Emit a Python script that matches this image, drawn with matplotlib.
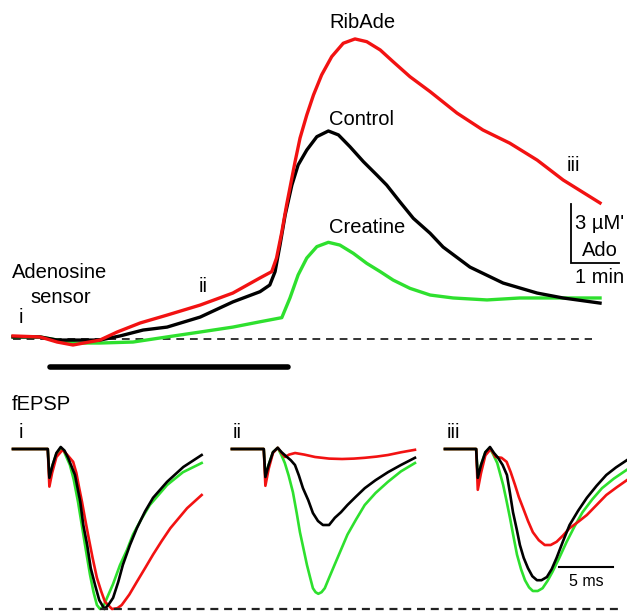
import matplotlib
matplotlib.use("Agg")
import matplotlib.pyplot as plt

plt.rcParams['font.family'] = ['Liberation Sans', 'DejaVu Sans']

# ---------------- DATA: adenosine sensor traces (time in min, conc in uM) ----------------
ribade_t = [0, 0.56, 0.92, 1.25, 1.81, 2.17, 2.65, 3.21, 3.90, 4.58, 5.146, 5.39, 5.49, 5.60, 5.70,
            5.81, 5.875, 5.98, 6.12, 6.26, 6.43, 6.64, 6.88, 7.125, 7.37, 7.65, 7.92, 8.27, 8.69,
            9.25, 9.79, 10.35, 10.92, 11.46, 12.23]
ribade_c = [0.13, 0.08, -0.18, -0.33, -0.08, 0.33, 0.79, 1.19, 1.70, 2.31, 3.08, 3.40, 4.09, 5.41, 6.79,
            8.16, 8.97, 10.19, 11.36, 12.38, 13.40, 14.33, 15.01, 15.23, 15.09, 14.67, 14.07, 13.31, 12.55,
            11.46, 10.60, 9.93, 9.07, 8.06, 6.89]

control_t = [0, 0.56, 0.92, 1.25, 1.81, 2.23, 2.71, 3.21, 3.90, 4.58, 5.146, 5.35, 5.46, 5.5625, 5.67,
             5.81, 5.94, 6.12, 6.33, 6.57, 6.78, 7.02, 7.30, 7.58, 7.785, 8.06, 8.34, 8.69, 8.96,
             9.52, 10.21, 10.92, 11.46, 12.23]
control_c = [0.08, 0.08, -0.08, -0.08, -0.08, 0.13, 0.43, 0.58, 1.09, 1.86, 2.38, 2.72, 3.40, 4.75, 6.28,
             7.80, 8.82, 9.58, 10.26, 10.55, 10.35, 9.75, 8.99, 8.31, 7.80, 6.95, 6.11, 5.35, 4.65,
             3.63, 2.82, 2.31, 2.06, 1.80]

creatine_t = [0, 0.56, 0.92, 1.33, 1.81, 2.5, 3.21, 3.90, 4.58, 5.146, 5.60, 5.77, 5.94, 6.12, 6.33,
              6.57, 6.81, 7.09, 7.37, 7.65, 7.92, 8.27, 8.69, 9.17, 9.875, 10.56, 11.25, 12.23]
creatine_c = [0.08, 0.08, -0.08, -0.23, -0.23, -0.18, 0.08, 0.33, 0.58, 0.85, 1.06, 2.06, 3.23, 4.09, 4.67,
              4.89, 4.75, 4.33, 3.82, 3.40, 2.97, 2.55, 2.21, 2.06, 1.96, 2.06, 2.06, 2.06]

drug_on, drug_off = 0.77, 5.72          # min (bar)
baseline_end = 12.06                     # min (dashed zero line)
sample_labels = ['i', 'ii', 'iii']
sample_t = [0.17, 3.96, 11.67]
sample_c = [1.09, 2.62, 8.82]

# ---------------- DATA: fEPSP traces (time in ms from stimulus, mV) ----------------
# panel i
i_ctrl_t = [-3.27, -0.05, 0.1, 0.4, 0.75, 1.15, 1.5, 1.83, 2.1, 2.47, 2.96, 3.24, 3.6, 3.93, 4.33, 4.72,
            5.2, 5.56, 6.0, 6.48, 6.9, 7.56, 8.2, 8.96, 9.7, 11.0, 12.5, 14.2]
i_ctrl_v = [0, 0, -0.36, -0.2, -0.05, 0.025, -0.02, -0.11, -0.2, -0.325, -0.66, -0.95, -1.2, -1.49, -1.7, -1.89,
            -2.0, -1.95, -1.86, -1.66, -1.45, -1.2, -0.99, -0.78, -0.61, -0.41, -0.225, -0.075]
i_crea_t = [-3.27, -0.05, 0.1, 0.4, 0.75, 1.1, 1.45, 2.0, 2.35, 2.75, 3.1, 3.4, 3.86, 4.19, 4.5, 4.79, 5.1,
            5.44, 5.99, 6.64, 7.29, 7.84, 8.6, 9.4, 11.0, 12.47, 14.2]
i_crea_v = [0, 0, -0.36, -0.2, -0.06, 0.0, -0.03, -0.2, -0.38, -0.66, -0.95, -1.2, -1.57, -1.79, -1.95, -2.0, -1.97,
            -1.86, -1.69, -1.45, -1.26, -1.07, -0.88, -0.7, -0.45, -0.29, -0.175]
i_rib_t = [-3.27, -0.05, 0.1, 0.35, 0.75, 1.33, 1.8, 2.3, 2.6, 2.85, 3.12, 3.4, 3.68, 4.1, 4.5, 4.9, 5.25,
           5.9, 6.4, 6.8, 7.5, 8.2, 9.0, 9.7, 10.5, 11.3, 12.85, 14.2]
i_rib_v = [0, 0, -0.47, -0.3, -0.1, -0.01, -0.08, -0.16, -0.3, -0.48, -0.66, -0.87, -1.07, -1.36, -1.61, -1.78, -1.91,
           -2.0, -1.99, -1.95, -1.82, -1.66, -1.48, -1.32, -1.15, -0.99, -0.74, -0.575]
# panel ii
ii_ctrl_t = [-3.0, -0.05, 0.1, 0.4, 0.8, 1.24, 1.6, 2.1, 2.45, 2.84, 3.2, 3.58, 4.07, 4.5, 4.97, 5.43, 6.0,
             6.53, 7.1, 7.7, 8.45, 9.3, 10.3, 11.45, 12.65, 13.95]
ii_ctrl_v = [0, 0, -0.35, -0.2, -0.04, 0.015, -0.04, -0.1, -0.14, -0.2, -0.33, -0.49, -0.64, -0.8, -0.9, -0.95, -0.95,
             -0.86, -0.79, -0.7, -0.6, -0.49, -0.39, -0.29, -0.2, -0.11]
ii_crea_t = [-3.0, -0.05, 0.1, 0.4, 0.8, 1.24, 1.6, 1.9, 2.25, 2.65, 3.0, 3.3, 3.65, 3.95, 4.25, 4.5, 4.75, 5.0,
             5.3, 5.6, 6.0, 6.5, 7.1, 7.7, 8.5, 9.3, 10.3, 11.45, 12.65, 13.95]
ii_crea_v = [0, 0, -0.35, -0.2, -0.04, 0.015, -0.08, -0.175, -0.33, -0.54, -0.8, -1.04, -1.26, -1.45, -1.61, -1.74,
             -1.79, -1.81, -1.79, -1.74, -1.61, -1.45, -1.26, -1.07, -0.88, -0.7, -0.55, -0.41, -0.28, -0.175]
ii_rib_t = [-3.0, -0.05, 0.1, 0.4, 0.8, 1.24, 1.6, 1.92, 2.3, 2.85, 3.7, 4.7, 6.0, 7.2, 8.3, 9.3, 10.4, 11.45,
            12.7, 13.95]
ii_rib_v = [0, 0, -0.46, -0.25, -0.05, 0.015, -0.05, -0.1, -0.07, -0.05, -0.07, -0.1, -0.12, -0.125, -0.12, -0.11,
            -0.095, -0.075, -0.04, -0.01]
# panel iii
iii_ctrl_t = [-2.94, -0.05, 0.1, 0.4, 0.8, 1.23, 1.6, 1.98, 2.4, 2.8, 3.08, 3.36, 3.7, 4.0, 4.35, 4.75, 5.15,
              5.58, 6.0, 6.5, 6.95, 7.4, 8.0, 8.6, 9.4, 10.2, 11.1, 12.0, 12.9, 13.9]
iii_ctrl_v = [0, 0, -0.36, -0.2, -0.04, 0.025, -0.05, -0.11, -0.2, -0.325, -0.55, -0.79, -1.0, -1.2, -1.36, -1.49,
              -1.59, -1.64, -1.64, -1.6, -1.5, -1.36, -1.15, -0.95, -0.77, -0.61, -0.46, -0.325, -0.23, -0.14]
iii_crea_t = [-2.94, -0.05, 0.1, 0.4, 0.8, 1.2, 1.5, 1.9, 2.15, 2.45, 2.75, 3.08, 3.4, 3.73, 4.1, 4.47, 4.85,
              5.2, 5.65, 6.1, 6.55, 7.0, 7.65, 8.33, 9.05, 9.8, 10.7, 11.6, 12.7, 13.9]
iii_crea_v = [0, 0, -0.36, -0.2, -0.04, 0.01, -0.06, -0.175, -0.3, -0.45, -0.64, -0.86, -1.09, -1.32, -1.5, -1.64,
              -1.73, -1.775, -1.775, -1.74, -1.65, -1.54, -1.36, -1.16, -0.97, -0.79, -0.63, -0.49, -0.37, -0.26]
iii_rib_t = [-2.94, -0.05, 0.1, 0.4, 0.8, 1.3, 1.75, 2.3, 2.77, 3.15, 3.55, 3.9, 4.3, 4.75, 5.2, 5.75, 6.3,
             6.85, 7.4, 8.0, 8.6, 9.4, 10.2, 11.1, 12.0, 12.95, 13.9]
iii_rib_v = [0, 0, -0.51, -0.3, -0.08, 0.0, -0.1, -0.11, -0.16, -0.29, -0.45, -0.6, -0.74, -0.9, -1.04, -1.14, -1.2,
             -1.2, -1.16, -1.08, -0.99, -0.91, -0.825, -0.7, -0.575, -0.48, -0.39]

RED, BLACK, GREEN = '#f21212', '#000000', '#2ee02e'

# ---------------- LAYOUT ----------------
W, H = 627, 613
fig = plt.figure(figsize=(W / 100, H / 100), dpi=100)

def rect(px0, py0, px1, py1):
    return [px0 / W, 1 - py1 / H, (px1 - px0) / W, (py1 - py0) / H]

# top panel scale: px per min, px per uM, origin pixel
PXM, PXU, OX, OY = 48.0, 19.67, 13.0, 338.5
ax = fig.add_axes(rect(0, 0, W, 390))
ax.set_xlim((0 - OX) / PXM, (W - OX) / PXM)
ax.set_ylim((OY - 390) / PXU, OY / PXU)
ax.axis('off')

ax.plot([0, baseline_end], [0, 0], color='#333333', lw=1.4, ls=(0, (4.0, 3.0)))
ax.plot(creatine_t, creatine_c, color=GREEN, lw=2.4, solid_joinstyle='round')
ax.plot(control_t, control_c, color=BLACK, lw=2.4, solid_joinstyle='round')
ax.plot(ribade_t, ribade_c, color=RED, lw=2.4, solid_joinstyle='round')
ax.plot([drug_on, drug_off], [-1.46, -1.46], color='black', lw=4.0, solid_capstyle='round')

FS = 14.5
ax.text(7.29, 16.04, 'RibAde', fontsize=FS, ha='center', va='center')
ax.text(7.27, 11.11, 'Control', fontsize=FS, ha='center', va='center')
ax.text(7.375, 5.62, 'Creatine', fontsize=FS, ha='center', va='center')
ax.text(0.98, 3.33, 'Adenosine', fontsize=FS, ha='center', va='center')
ax.text(1.0, 2.06, 'sensor', fontsize=FS, ha='center', va='center')
for lab, t, c in zip(sample_labels, sample_t, sample_c):
    ax.text(t, c, lab, fontsize=FS, ha='center', va='center')

# scale bar: 3 uM x 1 min
sbx, sby = 11.62, 3.84
ax.plot([sbx, sbx, sbx + 1], [sby + 3, sby, sby], color='black', lw=1.3, solid_joinstyle='miter')
ax.text(sbx + 0.09, sby + 2.03, '3 µM\'', fontsize=FS, ha='left', va='center')
ax.text(sbx + 0.61, sby + 0.61, 'Ado', fontsize=FS, ha='center', va='center')
ax.text(sbx + 0.09, sby - 0.76, '1 min', fontsize=FS, ha='left', va='center', clip_on=False)

# bottom panels: px per ms, px per mV
PXMS, PXMV, BY = 10.8, 80.0, 449.0
BT, BB = 385, 613
stim_px = [48.3, 264.3, 476.7]
panel_px = [(0, 215), (215, 425), (425, W)]
traces = [
    [(i_rib_t, i_rib_v), (i_crea_t, i_crea_v), (i_ctrl_t, i_ctrl_v)],
    [(ii_rib_t, ii_rib_v), (ii_crea_t, ii_crea_v), (ii_ctrl_t, ii_ctrl_v)],
    [(iii_rib_t, iii_rib_v), (iii_crea_t, iii_crea_v), (iii_ctrl_t, iii_ctrl_v)],
]
order = [(1, GREEN), (0, RED), (2, BLACK)]
label_t = [-2.53, -2.53, -2.19]
axes_b = []
for k in range(3):
    p0, p1 = panel_px[k]
    a = fig.add_axes(rect(p0, BT, p1, BB))
    a.set_xlim((p0 - stim_px[k]) / PXMS, (p1 - stim_px[k]) / PXMS)
    a.set_ylim((BY - BB) / PXMV, (BY - BT) / PXMV)
    a.axis('off')
    for idx, col in order:
        tt, vv = traces[k][idx]
        a.plot(tt, vv, color=col, lw=1.9, solid_joinstyle='round', clip_on=False)
    a.text(label_t[k], 0.2, sample_labels[k], fontsize=FS, ha='center', va='center')
    axes_b.append(a)

# 5 ms scale bar in panel iii
a3 = axes_b[2]
a3.plot([7.62, 12.62], [-1.48, -1.48], color='black', lw=1.5)
a3.text(10.12, -1.66, '5 ms', fontsize=11.5, ha='center', va='center')

# overlay: fEPSP label and dashed reference at peak of control i
ov = fig.add_axes(rect(0, BT, W, BB))
ov.patch.set_visible(False)
ov.set_xlim((0 - stim_px[0]) / PXMS, (W - stim_px[0]) / PXMS)
ov.set_ylim((BY - BB) / PXMV, (BY - BT) / PXMV)
ov.axis('off')
ref = min(i_ctrl_v)
ov.plot([-0.31, 52.9], [ref, ref], color='#222222', lw=1.6, ls=(0, (3.6, 2.6)))
ov.text(-3.36, 0.55, 'fEPSP', fontsize=FS, ha='left', va='center')

fig.savefig('out.png', dpi=100)
